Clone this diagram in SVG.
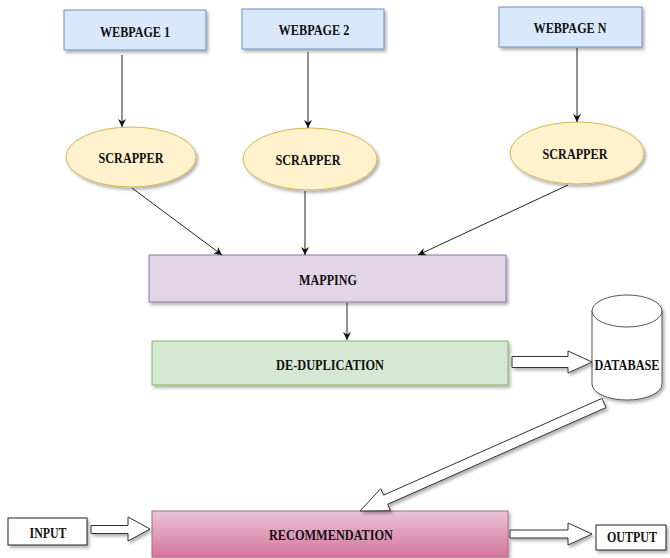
<svg xmlns="http://www.w3.org/2000/svg" width="670" height="558" viewBox="0 0 670 558">
<defs>
<filter id="sh" x="-10%" y="-10%" width="130%" height="140%">
<feDropShadow dx="2" dy="2.5" stdDeviation="1.5" flood-color="#000" flood-opacity="0.3"/>
</filter>
<linearGradient id="pink" x1="0" y1="0" x2="0" y2="1">
<stop offset="0" stop-color="#ebc5d7"/>
<stop offset="1" stop-color="#d5759c"/>
</linearGradient>
<marker id="ah" viewBox="0 0 10 10" refX="10" refY="5" markerWidth="8" markerHeight="8" orient="auto" markerUnits="userSpaceOnUse">
<path d="M0,0 L10,5 L0,10 L3,5 z" fill="#111"/>
</marker>
</defs>
<style>
text{font-family:"Liberation Serif","Times New Roman",serif;font-weight:bold;font-size:14px;fill:#111;text-anchor:middle}
.web{fill:#dae8fc;stroke:#6c8ebf;stroke-width:1}
.scr{fill:#fff2cc;stroke:#d6b656;stroke-width:1}
.map{fill:#e1d5e7;stroke:#9673a6;stroke-width:1}
.ded{fill:#d5e8d4;stroke:#82b366;stroke-width:1}
.rec{fill:url(#pink);stroke:#b0668a;stroke-width:1}
.plain{fill:#fff;stroke:#222;stroke-width:1}
.db{fill:#fff;stroke:#555;stroke-width:1}
.ln{stroke:#222;stroke-width:1;fill:none;marker-end:url(#ah)}
.blk{fill:#fff;stroke:#333;stroke-width:1;stroke-linejoin:miter}
</style>
<rect width="670" height="558" fill="#fff"/>

<g id="webpage1"><rect class="web" x="64" y="10" width="142" height="40" filter="url(#sh)"/><text x="135" y="37" textLength="70" lengthAdjust="spacingAndGlyphs">WEBPAGE 1</text></g>
<g id="webpage2"><rect class="web" x="242" y="9" width="142" height="40" filter="url(#sh)"/><text x="314" y="35" textLength="71" lengthAdjust="spacingAndGlyphs">WEBPAGE 2</text></g>
<g id="webpageN"><rect class="web" x="499" y="7" width="143" height="40" filter="url(#sh)"/><text x="570" y="33" textLength="73" lengthAdjust="spacingAndGlyphs">WEBPAGE N</text></g>

<g id="scrapper1"><ellipse class="scr" cx="131" cy="157" rx="65" ry="30" filter="url(#sh)"/><text x="131" y="163" textLength="65" lengthAdjust="spacingAndGlyphs">SCRAPPER</text></g>
<g id="scrapper2"><ellipse class="scr" cx="310" cy="159" rx="67" ry="31" filter="url(#sh)"/><text x="308" y="165" textLength="65" lengthAdjust="spacingAndGlyphs">SCRAPPER</text></g>
<g id="scrapperN"><ellipse class="scr" cx="577" cy="153" rx="67" ry="31" filter="url(#sh)"/><text x="575" y="159" textLength="65" lengthAdjust="spacingAndGlyphs">SCRAPPER</text></g>

<g id="mapping"><rect class="map" x="149" y="255" width="357" height="47" filter="url(#sh)"/><text x="328" y="285" textLength="58" lengthAdjust="spacingAndGlyphs">MAPPING</text></g>
<g id="deduplication"><rect class="ded" x="152" y="341" width="356" height="44" filter="url(#sh)"/><text x="330" y="370" textLength="108" lengthAdjust="spacingAndGlyphs">DE-DUPLICATION</text></g>

<g id="database">
<path class="db" d="M592,311 a35,16 0 0 1 70,0 v73 a35,16 0 0 1 -70,0 z" filter="url(#sh)"/>
<path class="db" d="M592,311 a35,16 0 0 0 70,0" fill="none"/>
<text x="627" y="370" textLength="65" lengthAdjust="spacingAndGlyphs">DATABASE</text>
</g>

<g id="recommendation"><rect class="rec" x="152" y="511" width="356" height="46" filter="url(#sh)"/><text x="331" y="540" textLength="124" lengthAdjust="spacingAndGlyphs">RECOMMENDATION</text></g>
<g id="input"><rect class="plain" x="8" y="518" width="79" height="27" filter="url(#sh)"/><text x="48" y="538" textLength="37" lengthAdjust="spacingAndGlyphs">INPUT</text></g>
<g id="output"><rect class="plain" x="596" y="525" width="70" height="25" filter="url(#sh)"/><text x="632" y="542" textLength="50" lengthAdjust="spacingAndGlyphs">OUTPUT</text></g>

<g id="connectors">
<line class="ln" x1="122" y1="55" x2="122" y2="127"/>
<line class="ln" x1="308" y1="52" x2="308" y2="128"/>
<line class="ln" x1="577" y1="48" x2="577" y2="122"/>
<line class="ln" x1="132" y1="188" x2="222" y2="255"/>
<line class="ln" x1="305" y1="191" x2="305" y2="255"/>
<line class="ln" x1="568" y1="185" x2="418" y2="255"/>
<line class="ln" x1="347" y1="303" x2="347" y2="340"/>
<polygon class="blk" points="512,356.5 568,356.5 568,351 592,362 568,373 568,367.5 512,367.5" filter="url(#sh)"/>
<polygon class="blk" points="91,525.5 128,525.5 128,517 150,529 128,541 128,533.5 91,533.5" filter="url(#sh)"/>
<polygon class="blk" points="510,530 568,530 568,523 592,534 568,545 568,538 510,538" filter="url(#sh)"/>
<polygon class="blk" points="602,398.4 383.6,495.1 380.7,488.7 360,511 390.5,510.7 387.6,504.3 606,407.6" filter="url(#sh)"/>
</g>
</svg>
